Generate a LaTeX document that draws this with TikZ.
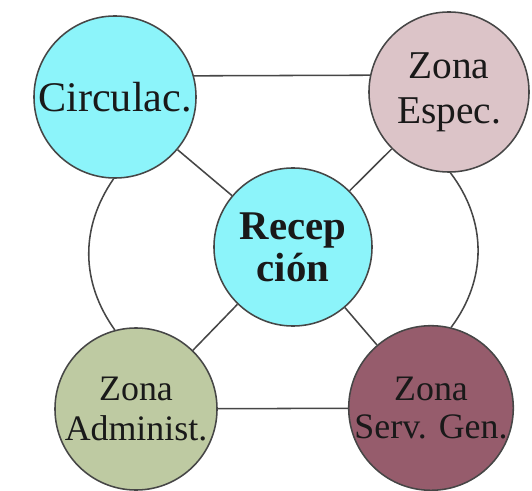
\documentclass[tikz,border=0pt]{standalone}
\usepackage{fontspec}
\setmainfont{Liberation Serif}
\definecolor{zcyan}{RGB}{140,244,250}
\definecolor{zpink}{RGB}{220,196,200}
\definecolor{zsage}{RGB}{190,202,162}
\definecolor{zmauve}{RGB}{150,92,108}
\definecolor{zline}{RGB}{70,70,70}
\begin{document}
\begin{tikzpicture}[x=0.025cm,y=-0.025cm,
    zone/.style={circle,draw=zline,line width=1.1pt,minimum size=4.05cm,
      inner sep=0pt,align=center,text=black!90}]
      \useasboundingbox (0,0) rectangle (532,491);
      \draw
        (115,97) node[zone,fill=zcyan,font=\fontsize{30}{34}\selectfont] (1){Circulac.}
        (449,92) node[zone,fill=zpink,minimum size=4cm,font=\fontsize{28}{32}\selectfont] (2){Zona\\Espec.}
        (293,247) node[zone,fill=zcyan,minimum size=3.95cm,font=\fontsize{29}{30}\selectfont\bfseries] (3){Recep\\ción}
        (136,409) node[zone,fill=zsage,font=\fontsize{25.5}{28}\selectfont] (4){Zona\\Administ.}
        (431,408) node[zone,fill=zmauve,font=\fontsize{25.5}{27}\selectfont] (5){Zona\\Serv. Gen.};
      \begin{scope}[-,draw=zline,line width=1.1pt]
        \draw (1.15) to (2.168);
        \draw (1) to (3);
        \draw (2) to (3);
        \draw (4) to (3);
        \draw (5) to (3);
        \draw (4) to (5);
        \draw (1.269) to[bend right=35] (4.105);
        \draw (2.271) to[bend left=37] (5.76);
      \end{scope}
    \end{tikzpicture}
\end{document}
